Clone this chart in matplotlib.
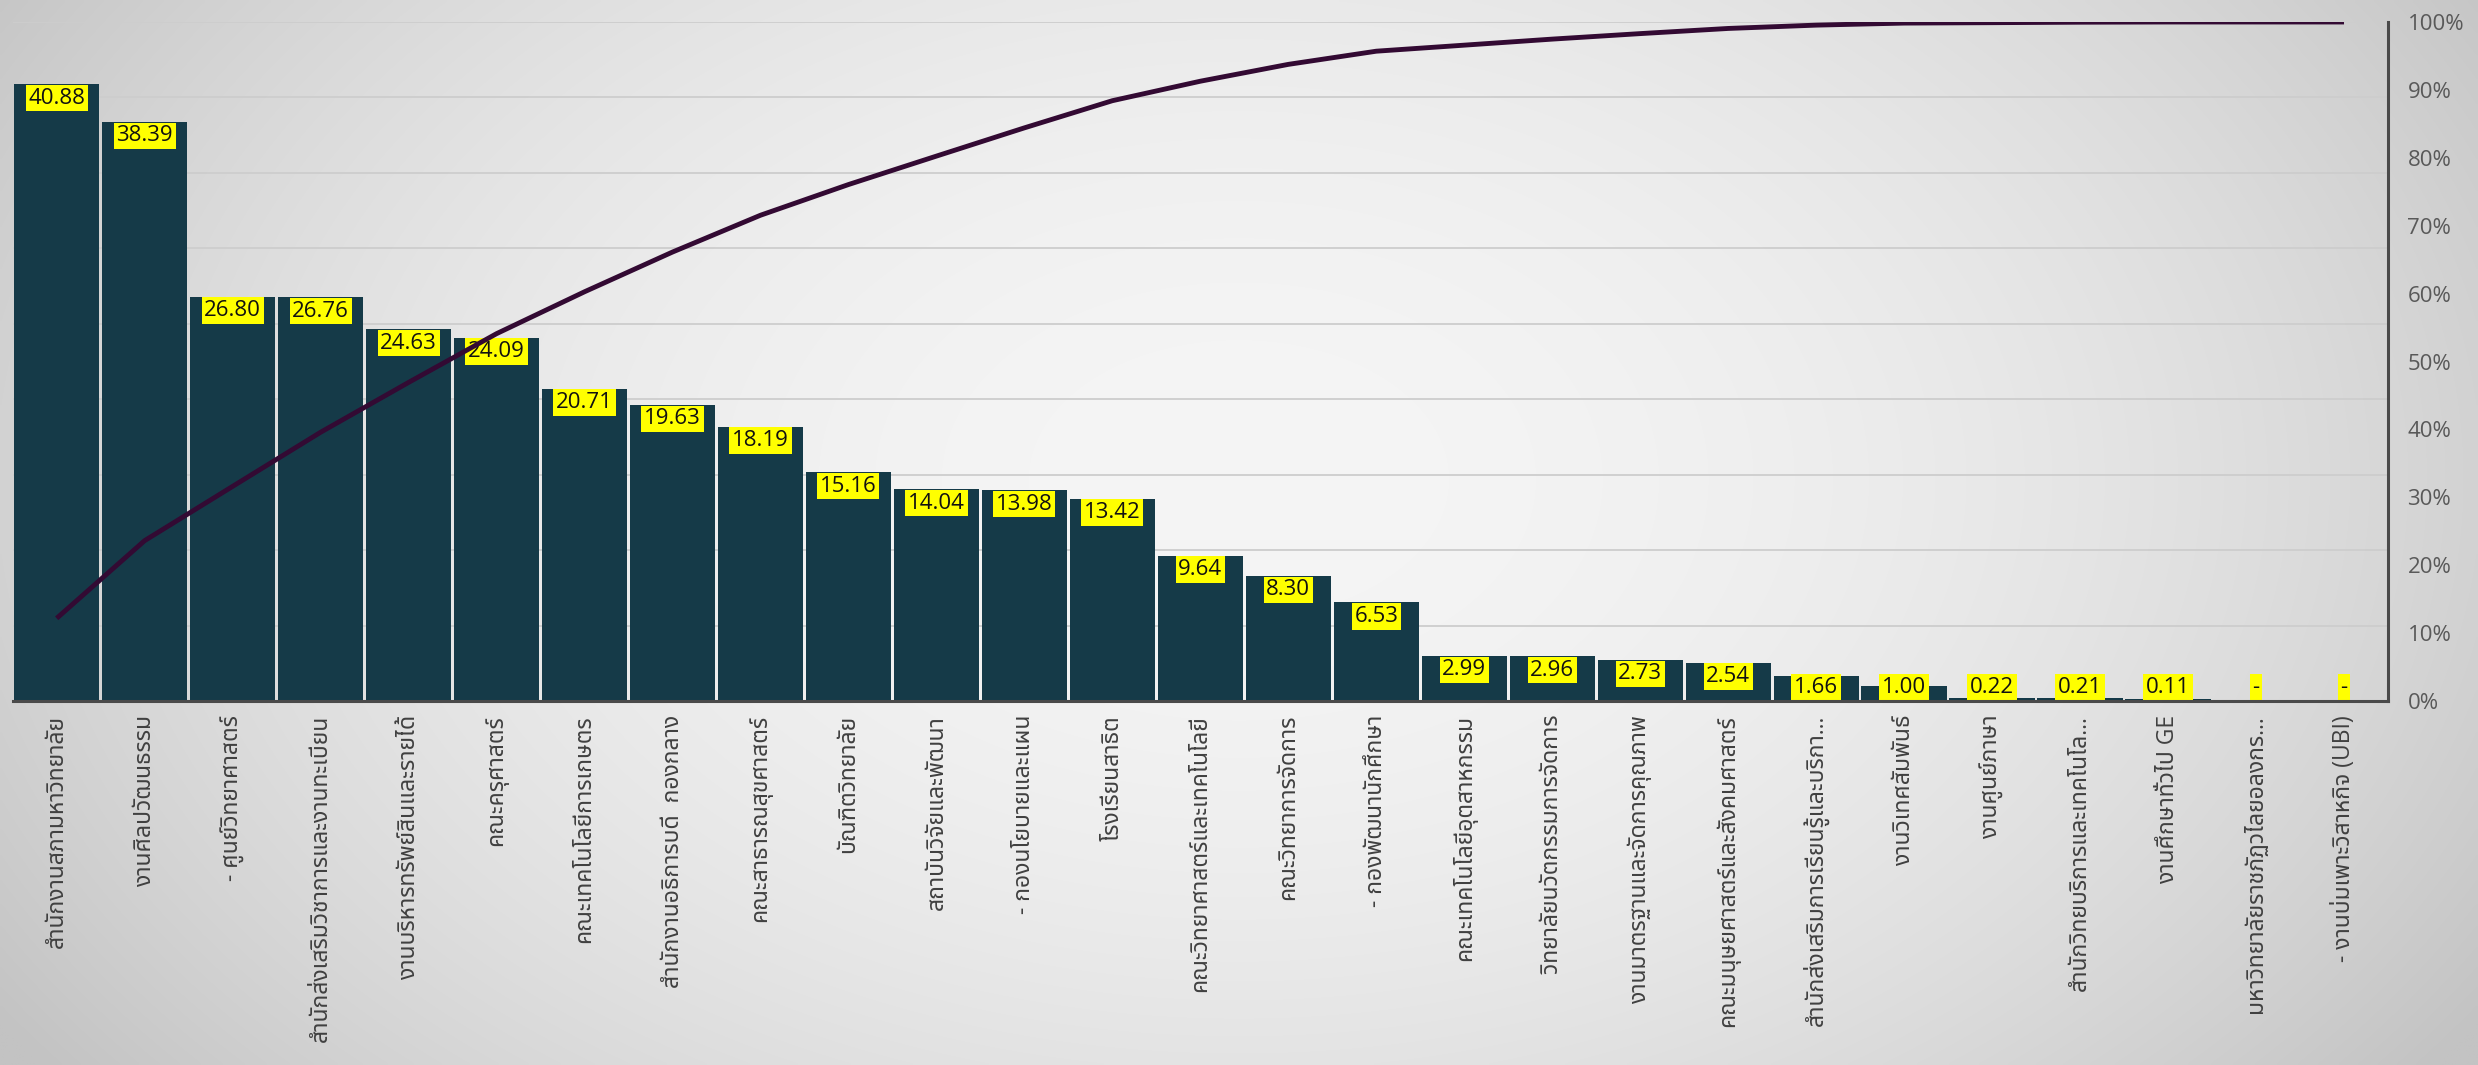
import matplotlib
matplotlib.use('Agg')
import matplotlib.pyplot as plt
from matplotlib import font_manager as fm
from matplotlib.ft2font import FT2Font
from matplotlib.ticker import FixedLocator, PercentFormatter
import numpy as np

# ---------------- data ----------------
categories = [
    "สำนักงานสภามหาวิทยาลัย",
    "งานศิลปวัฒนธรรม",
    "- ศูนย์วิทยาศาสตร์",
    "สำนักส่งเสริมวิชาการและงานทะเบียน",
    "งานบริหารทรัพย์สินและรายได้",
    "คณะครุศาสตร์",
    "คณะเทคโนโลยีการเกษตร",
    "สำนักงานอธิการบดี  กองกลาง",
    "คณะสาธารณสุขศาสตร์",
    "บัณฑิตวิทยาลัย",
    "สถาบันวิจัยและพัฒนา",
    "- กองนโยบายและแผน",
    "โรงเรียนสาธิต",
    "คณะวิทยาศาสตร์และเทคโนโลยี",
    "คณะวิทยาการจัดการ",
    "- กองพัฒนานักศึกษา",
    "คณะเทคโนโลยีอุตสาหกรรม",
    "วิทยาลัยนวัตกรรมการจัดการ",
    "งานมาตรฐานและจัดการคุณภาพ",
    "คณะมนุษยศาสตร์และสังคมศาสตร์",
    "สำนักส่งเสริมการเรียนรู้และบริกา...",
    "งานวิเทศสัมพันธ์",
    "งานศูนย์ภาษา",
    "สำนักวิทยบริการและเทคโนโล...",
    "งานศึกษาทั่วไป GE",
    "มหาวิทยาลัยราชภัฏวไลยอลงกร...",
    "- งานบ่มเพาะวิสาหกิจ (UBI)",
]
values = [40.88, 38.39, 26.80, 26.76, 24.63, 24.09, 20.71, 19.63, 18.19,
          15.16, 14.04, 13.98, 13.42, 9.64, 8.30, 6.53, 2.99, 2.96, 2.73,
          2.54, 1.66, 1.00, 0.22, 0.21, 0.11, 0.0, 0.0]
value_labels = ["40.88", "38.39", "26.80", "26.76", "24.63", "24.09", "20.71",
                "19.63", "18.19", "15.16", "14.04", "13.98", "13.42", "9.64",
                "8.30", "6.53", "2.99", "2.96", "2.73", "2.54", "1.66", "1.00",
                "0.22", "0.21", "0.11", "-", "-"]
# cumulative share (%) of the running total
cumulative_pct = [12.18, 23.62, 31.61, 39.58, 46.92, 54.10, 60.27, 66.12, 71.54,
                  76.06, 80.25, 84.41, 88.41, 91.28, 93.76, 95.70, 96.59, 97.48,
                  98.29, 99.05, 99.54, 99.84, 99.90, 99.97, 100.0, 100.0, 100.0]
right_ticks = [0, 10, 20, 30, 40, 50, 60, 70, 80, 90, 100]
left_max = 45
left_grid = [5, 10, 15, 20, 25, 30, 35, 40, 45]

# ---------------- fonts ----------------
def find_thai_font():
    prefs = ['Noto Sans Thai', 'Noto Sans Thai UI', 'Noto Sans Thai Looped',
             'Leelawadee UI', 'Tahoma', 'Loma', 'Garuda', 'Sarabun',
             'Tlwg Typo', 'Kinnari', 'Norasi', 'Waree', 'Umpush', 'Laksaman',
             'Noto Serif Thai', 'FreeSans', 'DejaVu Sans']
    found = {}
    for f in fm.fontManager.ttflist:
        if f.name in found:
            continue
        try:
            cm = FT2Font(f.fname).get_charmap()
            if 0x0E01 in cm and 0x0E32 in cm and 0x0E22 in cm:
                found[f.name] = f
        except Exception:
            pass
    for p in prefs:
        if p in found:
            return p
    if found:
        return sorted(found)[0]
    return None

thai = find_thai_font()
fam = ['Open Sans']
if thai:
    fam.append(thai)
fam.append('DejaVu Sans')
plt.rcParams['font.family'] = fam

# ---------------- figure ----------------
W, H = 2478, 1065
fig = plt.figure(figsize=(W / 100, H / 100), dpi=100)

# background radial gradient
bg = fig.add_axes([0, 0, 1, 1], zorder=-10)
yy, xx = np.mgrid[0:1:300j, 0:1:700j]
r2 = ((xx - 0.5) / 0.55) ** 2 + ((yy - 0.45) / 0.85) ** 2
shade = np.clip(245 - 42 * r2, 195, 247) / 255.0
bg.imshow(np.dstack([shade, shade, shade]), aspect='auto', extent=[0, 1, 0, 1],
          origin='upper', interpolation='bilinear')
bg.set_axis_off()

left = 12.7 / W
right = 2388 / W
bottom = 1 - 701 / H
top = 1 - 22 / H
ax = fig.add_axes([left, bottom, right - left, top - bottom])
ax.set_facecolor('none')

x = np.arange(len(categories))
ax.bar(x, values, width=0.97, color='#153a48', zorder=1)
ax.set_xlim(-0.5, len(categories) - 0.5)
ax.set_ylim(0, left_max)

# gridlines (primary axis)
ax.yaxis.set_major_locator(FixedLocator(left_grid))
ax.grid(axis='y', color='#cdcdcd', linewidth=1.3, zorder=0)
ax.set_axisbelow(True)

for s in ['top', 'left', 'right']:
    ax.spines[s].set_visible(False)
ax.spines['bottom'].set_color('#4a4a4a')
ax.spines['bottom'].set_linewidth(2.2)
ax.spines['bottom'].set_zorder(5)

ax.set_xticks(x)
ax.set_xticklabels(categories, rotation=90, fontsize=16.5, color='#404040')
ax.tick_params(axis='x', length=0, pad=10)

# data labels in yellow boxes
box_h = 1.85
for xi, v, lab in zip(x, values, value_labels):
    ytop = max(v, box_h)
    ax.annotate(lab, xy=(xi, ytop), xytext=(0, -2.5), textcoords='offset points',
                ha='center', va='top', fontsize=16, color='#111111', zorder=2,
                bbox=dict(boxstyle='square,pad=0.12', facecolor='#ffff00',
                          edgecolor='none'))

# cumulative line (secondary axis)
ax2 = ax.twinx()
ax2.set_ylim(0, 100)
ax2.plot(x, cumulative_pct, color='#330a33', linewidth=3.5,
         solid_capstyle='butt', zorder=6)
ax2.yaxis.set_major_locator(FixedLocator(right_ticks))
ax2.yaxis.set_major_formatter(PercentFormatter(decimals=0))
ax2.tick_params(axis='y', length=0, pad=14, labelsize=16, labelcolor='#595959')
for s in ['top', 'left', 'bottom']:
    ax2.spines[s].set_visible(False)
ax2.spines['right'].set_color('#4a4a4a')
ax2.spines['right'].set_linewidth(2.2)

# hide primary y ticks (after twinx, which re-enables them)
ax.tick_params(axis='y', which='both', left=False, right=False,
               labelleft=False, labelright=False)

fig.savefig('out.png', dpi=100)
